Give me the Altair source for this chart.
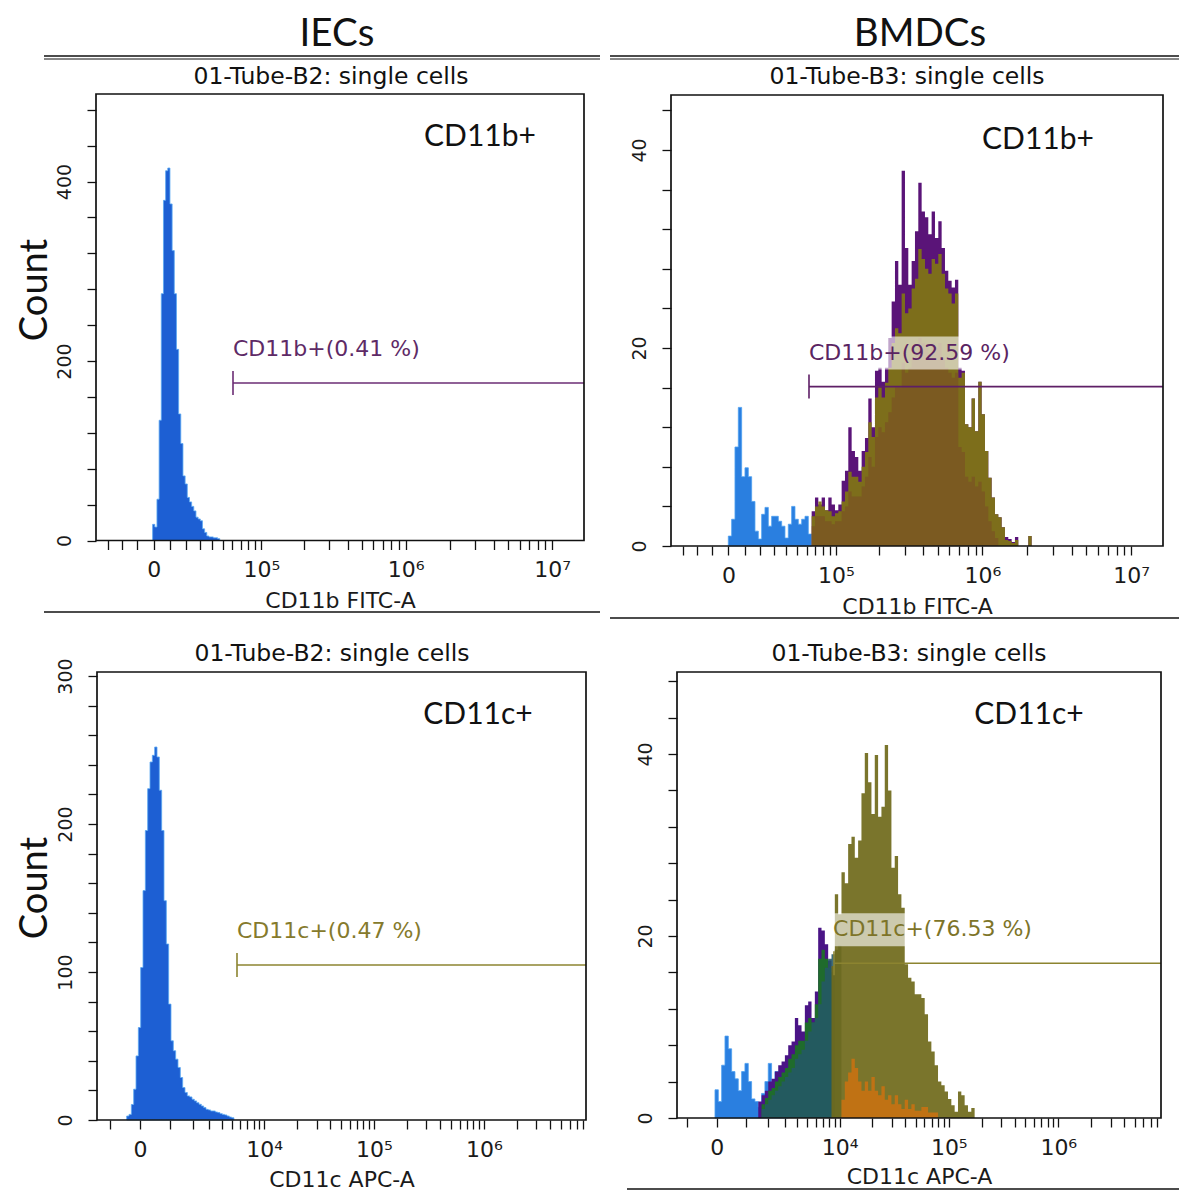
import math
import altair as alt
import pandas as pd

W, H = 1171, 1182
M = 8
LN10 = math.log(10)

# ---------------- data (counts per histogram bin) ----------------
TL_BLUE = [18, 15, 46, 134, 275, 379, 412, 415, 375, 323, 275, 213, 141, 108, 72, 63, 48,
           43, 38, 33, 26, 24, 22, 13, 9, 5, 4, 4, 3, 3, 2]

TR_BLUE = [1.0, 2.7, 10, 14, 7, 7.9, 7, 4.5, 1.5, 0.7, 3.2, 3.9, 2.0, 3.0, 3.0, 2.5, 2.0,
           0.8, 2.2, 4.0, 2.7, 2.2, 2.7, 3.0, 1.2]
TR_PURPLE = [3.5, 4.9, 4.2, 4.9, 3.6, 4.9, 4.2, 3.6, 4.2, 6.6, 7.6, 12.0, 9.6, 9.0, 7.6, 9.6,
             10.9, 14.9, 12.0, 17.7, 18.0, 16.6, 18.0, 21.0, 24.7, 28.8, 26.4, 37.9, 30.1,
             26.4, 28.8, 31.8, 36.7, 33.8, 33.2, 31.5, 33.8, 31.1, 32.8, 30.1, 27.8, 26.8,
             26.1, 26.9, 18.0, 17.7, 12.3, 12.0, 14.9, 11.6, 16.6, 13.3, 9.6, 6.9, 4.9, 3.2,
             2.9, 1.9, 0.9, 0.7, 0.4, 0.9, 0, 0, 0, 1.0]
TR_OLIVE = [3.0, 4.0, 4.5, 4.0, 3.6, 3.5, 3.0, 3.3, 3.5, 4.5, 5.5, 7.5, 7.0, 7.0, 6.5, 8.0,
            9.5, 12.5, 11.0, 15.0, 16.0, 15.0, 16.5, 18.0, 20.5, 22.0, 21.5, 25.5, 23.5,
            24.0, 26.0, 27.0, 30.0, 29.0, 28.0, 27.5, 29.0, 28.5, 29.5, 27.5, 26.0, 25.5,
            24.5, 25.5, 17.0, 17.5, 12.3, 12.0, 14.9, 11.6, 16.6, 13.3, 9.6, 6.9, 4.9, 3.2,
            2.9, 1.9, 0.6, 0.5, 0.3, 0.6, 0, 0, 0, 1.0]
TR_BROWN = [2.0, 3.0, 3.0, 3.0, 2.5, 2.5, 2.2, 2.5, 2.5, 3.5, 4.0, 5.5, 5.0, 5.0, 5.0, 6.0,
            7.0, 9.0, 8.0, 11.0, 12.0, 11.5, 12.5, 13.5, 15.0, 16.0, 16.0, 18.5, 17.5, 18.0,
            19.0, 19.5, 21.0, 20.5, 20.0, 19.5, 20.5, 20.0, 20.5, 19.0, 18.0, 17.5, 17.0,
            17.5, 10.0, 9.5, 7.0, 6.5, 7.0, 6.0, 6.5, 5.5, 4.0, 2.5, 1.5, 0.8]

BL_BLUE = [2.7, 3.8, 10.5, 20.8, 43.3, 62.5, 103, 155, 195.6, 223.9, 241.9, 246.4, 252,
           245.3, 222.8, 195.6, 148.2, 118.9, 78.3, 53.5, 46.8, 41.1, 35.5, 28.7, 21.9, 18.6,
           16.3, 15.6, 14.0, 12.9, 11.7, 10.6, 9.5, 8.4, 7.2, 6.8, 6.1, 6.1, 5.4, 5.0, 4.3,
           3.8, 3.4, 2.7, 2.0, 1.5]

BR_BLUE = [3.1, 1.8, 5.8, 9.0, 7.6, 5.1, 4.3, 3.0, 5.1, 6.0, 4.0, 2.1, 1.8, 1.2, 2.7, 4.0,
           6.0, 3.6, 5.1, 4.3, 3.6, 3.0]
BR_PURPLE = [1.8, 2.5, 3.0, 4.0, 4.3, 5.1, 5.8, 6.2, 6.9, 8.0, 8.4, 11.0, 10.2, 9.5, 12.4,
             12.8, 11.0, 13.9, 20.9, 20.6, 19.1, 17.3, 16.0]
BR_GREEN = [1.5, 2.2, 3.0, 3.3, 4.0, 4.5, 5.0, 5.5, 6.5, 7.0, 8.0, 8.5, 8.5, 10.5, 11.0,
            10.5, 12.5, 17.5, 18.5, 17.5, 16.5, 16.0]
BR_TEAL = [1.0, 1.5, 2.0, 2.5, 3.0, 3.5, 4.0, 4.5, 5.0, 5.5, 6.5, 7.0, 7.5, 8.5, 9.5, 10.5,
           11.0, 12.5, 15.0, 16.5, 17.5, 18.0, 18.5, 19.0]
BR_OLIVE = [16.7, 24.6, 22.4, 27.0, 25.8, 30.1, 30.9, 28.6, 30.5, 35.7, 40.1, 36.9, 33.4,
            39.9, 33.1, 34.2, 41.0, 36.0, 27.5, 28.8, 24.6, 23.1, 16.9, 15.4, 15.0, 13.6,
            13.6, 13.2, 11.4, 8.4, 7.3, 5.8, 4.0, 3.6, 2.9, 2.1, 1.4, 0.7, 2.9, 2.5, 1.4,
            0.7, 1.1]
BR_ORANGE = [2, 4, 5, 6.5, 5.5, 4, 3, 4, 3, 4.5, 3, 2.5, 3.5, 2, 2.5, 1.5, 2.5, 1.5, 1, 2,
             1, 1.5, 0.8, 0.8, 1.2, 1.2, 0.6, 0.6, 0.6]

# axis tick values (raw fluorescence) and labels
TOP_TICKS = [-3e4, -2e4, -1e4, 0] + [k * 1e4 for k in range(1, 10)] + \
            [k * 1e5 for k in range(1, 10)] + [k * 1e6 for k in range(1, 10)] + [1e7]
BOT_TICKS = [-1e3, 0] + [k * 1e3 for k in range(1, 10)] + [k * 1e4 for k in range(1, 10)] + \
            [k * 1e5 for k in range(1, 10)] + [k * 1e6 for k in range(1, 10)]
TOP_MAJOR = {0: "0", 1e5: "10\u2075", 1e6: "10\u2076", 1e7: "10\u2077"}
BOT_MAJOR = {0: "0", 1e4: "10\u2074", 1e5: "10\u2075", 1e6: "10\u2076"}

FONT = "DejaVu Sans"
BIG = "Lato"

PANELS = [
    dict(name="TL", anchor_u=5, anchor_px=261.4, ppu=146.4, fx=(96, 584), base=540.5, top=94,
         ppc=0.8975, c0=4.264, s=38000, ticks=TOP_TICKS, major=TOP_MAJOR, ystep=40, ymajor=200,
         xtitle="CD11b FITC-A", tpad=10, u0=4.257, du=0.0148,
         series=[(TL_BLUE, 0, "#1d5fd3", 1.0, "#5aa8f2")],
         gate=dict(u=4.806, c=175.5, color="#6b2d74", tcolor="#5e2a66",
                   label="CD11b+(0.41 %)", dx=0, box=None)),
    dict(name="TR", anchor_u=5, anchor_px=835.9, ppu=148.8, fx=(671, 1163), base=546, top=95,
         ppc=9.9, c0=4.2776, s=39290, ticks=TOP_TICKS, major=TOP_MAJOR, ystep=4, ymajor=20,
         xtitle="CD11b FITC-A", tpad=10, u0=4.277, du=0.0224,
         series=[(TR_BLUE, 0, "#2a7fe0", 1.0, "#4c9ff0"),
                 (TR_PURPLE, 25, "#5a1478", 1.0, None),
                 (TR_OLIVE, 25, "#807614", 0.92, None),
                 (TR_BROWN, 25, "#7a4a26", 0.55, None)],
         gate=dict(u=4.8192, c=16.1, color="#5e1f66", tcolor="#5a2462",
                   label="CD11b+(92.59 %)", dx=0, box=205)),
    dict(name="BL", anchor_u=4, anchor_px=264.3, ppu=110, fx=(97, 586), base=1120, top=672,
         ppc=1.48, c0=2.870, s=1492, ticks=BOT_TICKS, major=BOT_MAJOR, ystep=20, ymajor=100,
         xtitle="CD11c APC-A", tpad=9, u0=2.749, du=0.0212,
         series=[(BL_BLUE, 0, "#1d5fd3", 1.0, "#5aa8f2")],
         gate=dict(u=3.7518, c=104.7, color="#8c8430", tcolor="#857a2c",
                   label="CD11c+(0.47 %)", dx=0, box=None)),
    dict(name="BR", anchor_u=4, anchor_px=839.6, ppu=109.5, fx=(677, 1161), base=1118, top=672,
         ppc=9.1, c0=2.8785, s=1522, ticks=BOT_TICKS, major=BOT_MAJOR, ystep=4, ymajor=20,
         xtitle="CD11c APC-A", tpad=8, u0=2.862, du=0.0304,
         series=[(BR_BLUE, 0, "#2a7fe0", 1.0, "#4c9ff0"),
                 (BR_PURPLE, 13, "#4a1486", 1.0, None),
                 (BR_GREEN, 14, "#1f6b2c", 1.0, None),
                 (BR_TEAL, 14, "#245866", 0.88, None),
                 (BR_OLIVE, 35, "#706a1c", 0.93, None),
                 (BR_ORANGE, 38, "#d8720c", 0.75, None)],
         gate=dict(u=3.949, c=17.0, color="#8c8430", tcolor="#7d7428",
                   label="CD11c+(76.53 %)", dx=-1, box=205)),
]


def tick_u(v, c0, s):
    return c0 + math.asinh(v / s) / LN10


def series_df(u0, du, offset, counts):
    n = len(counts)
    us = [u0 + (offset + i) * du for i in range(n)] + [u0 + (offset + n) * du]
    cs = list(counts) + [0]
    return pd.DataFrame({"u": us, "c": cs, "b": [0] * (n + 1)})


def build_panel(p):
    x_l = p["anchor_u"] + (p["fx"][0] - p["anchor_px"]) / p["ppu"]
    x_r = p["anchor_u"] + (p["fx"][1] - p["anchor_px"]) / p["ppu"]
    ytop = (p["base"] - p["top"]) / p["ppc"]
    xscale = alt.Scale(domain=[x_l, x_r], range=[p["fx"][0] - M, p["fx"][1] - M],
                       nice=False, zero=False)
    yscale = alt.Scale(domain=[0, ytop], range=[p["base"] - M, p["top"] - M],
                       nice=False, zero=False)
    tvals, parts = [], []
    for v in p["ticks"]:
        u = tick_u(v, p["c0"], p["s"])
        if x_l <= u <= x_r:
            tvals.append(u)
            if v in p["major"]:
                parts.append(f"round(datum.value*100000)=={round(u*100000)} ? '{p['major'][v]}'")
    lab_expr = " : ".join(parts) + " : ''"
    yvals = list(range(0, int(ytop) + 1, p["ystep"]))
    xaxis = alt.Axis(orient="bottom", offset=(p["base"] - M) - H, values=tvals,
                     labelExpr=lab_expr, tickSize=9, tickWidth=1.3, tickColor="#111",
                     domain=False, grid=False, labelFont=FONT, labelFontSize=22,
                     labelColor="#1a1a1a", labelPadding=10, labelOverlap=False, labelFlush=False,
                     title=p["xtitle"], titleFont=FONT, titleFontSize=22,
                     titleFontWeight="normal", titleColor="#1a1a1a", titlePadding=p["tpad"])
    yaxis = alt.Axis(orient="left", offset=-(p["fx"][0] - M), values=yvals,
                     labelExpr=f"datum.value % {p['ymajor']} == 0 ? datum.label : ''",
                     tickSize=9, tickWidth=1.3, tickColor="#111", domain=False, grid=False,
                     labelFont=FONT, labelFontSize=19, labelColor="#1a1a1a", labelAngle=270,
                     labelAlign="center", labelBaseline="alphabetic", labelPadding=17,
                     labelOverlap=False, labelFlush=False, title=None)

    def X(f):
        return alt.X(f, type="quantitative", scale=xscale, axis=xaxis)

    def Y(f):
        return alt.Y(f, type="quantitative", scale=yscale, axis=yaxis)

    layers = []
    for counts, off, color, op, stroke in p["series"]:
        df = series_df(p["u0"], p["du"], off, counts)
        kw = dict(interpolate="step-after", color=color, opacity=op)
        if stroke:
            kw.update(stroke=stroke, strokeWidth=0.8)
        layers.append(alt.Chart(df).mark_area(**kw).encode(x=X("u"), y=Y("c"), y2="b"))

    g = p["gate"]
    gdf = pd.DataFrame({"u": [g["u"]], "u2": [x_r], "c": [g["c"]]})
    layers.append(alt.Chart(gdf).mark_rule(color=g["color"], strokeWidth=1.6)
                  .encode(x=X("u"), x2="u2", y=Y("c")))
    layers.append(alt.Chart(gdf).mark_rule(color=g["color"], strokeWidth=1.6,
                                           yOffset=-12, y2Offset=12)
                  .encode(x=X("u"), y=Y("c"), y2="c"))
    if g["box"]:
        layers.append(alt.Chart(gdf).mark_rect(color="white", opacity=0.62, xOffset=-4 + g["dx"],
                                               x2Offset=g["box"], yOffset=-50, y2Offset=-17)
                      .encode(x=X("u"), x2="u", y=Y("c"), y2="c"))
    layers.append(alt.Chart(gdf).mark_text(align="left", baseline="middle", dy=-34, dx=g["dx"],
                                           font=FONT, fontSize=22, color=g["tcolor"])
                  .encode(x=X("u"), y=Y("c"), text=alt.value(g["label"])))
    fdf = pd.DataFrame({"u": [x_l], "u2": [x_r], "c": [0], "c2": [ytop]})
    layers.append(alt.Chart(fdf).mark_rect(fillOpacity=0, stroke="#111", strokeWidth=1.7)
                  .encode(x=X("u"), x2="u2", y=Y("c"), y2="c2"))
    return alt.layer(*layers)


# ---------------- text and rules that frame the figure ----------------
one = pd.DataFrame({"a": [0]})


def txt(s, x, y, font, size, angle=0, align="center", color="#111"):
    kw = dict(font=font, fontSize=size, align=align, baseline="alphabetic", color=color)
    if angle:
        kw["angle"] = angle
    return alt.Chart(one).mark_text(**kw).encode(
        x=alt.value(x - M), y=alt.value(y - M), text=alt.value(s))


def hline(x1, x2, y, w=1.5):
    return alt.Chart(one).mark_rule(color="#111", strokeWidth=w).encode(
        x=alt.value(x1 - M), x2=alt.value(x2 - M), y=alt.value(y - M))


decor = [
    txt("IECs", 337, 46, BIG, 38.5),
    txt("BMDCs", 920, 46, BIG, 38.5),
    txt("Count", 46.5, 290, BIG, 38, angle=270),
    txt("Count", 46.5, 888, BIG, 38, angle=270),
    txt("CD11b+", 480, 146, BIG, 30),
    txt("CD11b+", 1038, 149, BIG, 30),
    txt("CD11c+", 478, 724, BIG, 30),
    txt("CD11c+", 1029, 724, BIG, 30),
    txt("01-Tube-B2: single cells", 331, 84, FONT, 23.5),
    txt("01-Tube-B3: single cells", 907, 84, FONT, 23.5),
    txt("01-Tube-B2: single cells", 332, 661, FONT, 23.5),
    txt("01-Tube-B3: single cells", 909, 661, FONT, 23.5),
    hline(44, 600, 56), hline(44, 600, 59, 1),
    hline(610, 1187, 56), hline(610, 1187, 59, 1),
    hline(44, 600, 612), hline(610, 1187, 618), hline(627, 1187, 1189),
]

panels = [build_panel(p) for p in PANELS]

chart = alt.layer(*panels, *decor).resolve_scale(
    x="independent", y="independent"
).properties(
    width=W, height=H, padding=0, autosize=alt.AutoSizeParams(type="none")
).configure_view(stroke="transparent", strokeWidth=0)

chart.save("out.html", embed_options={"renderer": "svg", "actions": False})
